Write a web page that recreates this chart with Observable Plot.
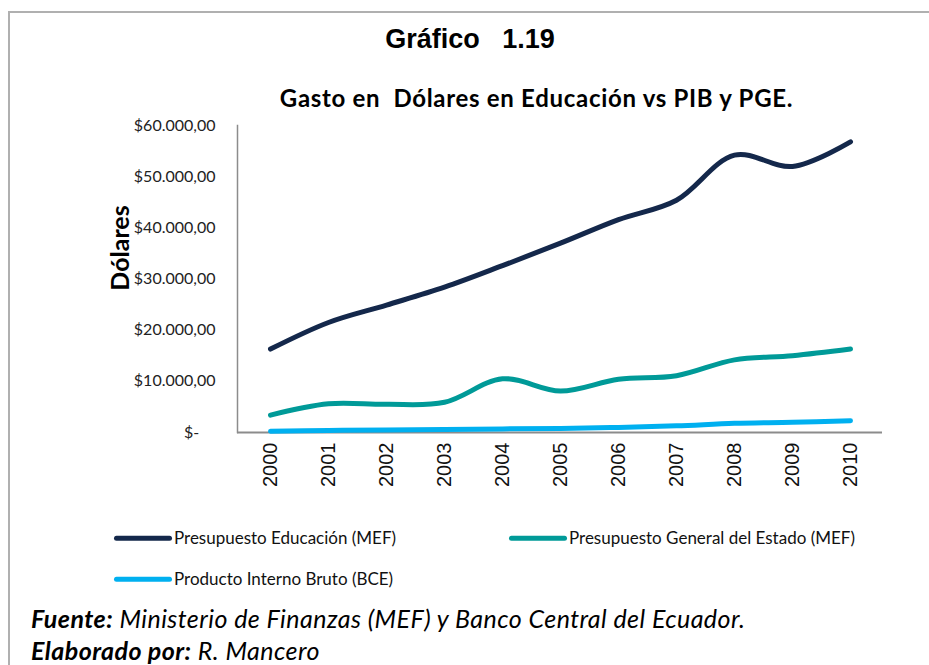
<!DOCTYPE html>
<html>
<head>
<meta charset="utf-8">
<script src="https://cdn.jsdelivr.net/npm/d3@7"></script>
<script src="https://cdn.jsdelivr.net/npm/@observablehq/plot@0.6"></script>
<style>
  body { margin: 0; background: #fff; }
  #wrap { position: relative; width: 929px; height: 665px; overflow: hidden; background: #fff; font-family: Lato, "Open Sans", sans-serif; color: #000; }
  #border { position: absolute; left: 8px; top: 11px; width: 940px; height: 700px; border-top: 2px solid #b0b0b0; border-left: 2px solid #b0b0b0; }
  .abs { position: absolute; white-space: pre; line-height: 1.2; }
  #title { left: 0; width: 940px; text-align: center; top: 24px; font-family: "Liberation Sans", Arial, sans-serif; font-weight: bold; font-size: 27px; line-height: 1.15; }
  #subtitle { left: 0; width: 1073px; text-align: center; top: 84px; font-weight: bold; font-size: 24px; letter-spacing: 0.7px; }
  #ylabel { left: 119px; top: 248px; transform: translate(-50%, -50%) rotate(-90deg); font-weight: bold; font-size: 25px; }
  #chart { position: absolute; left: 0; top: 0; }
  .leg { font-size: 17px; display: flex; align-items: center; color: #111; transform: translateY(-50%); }
  .sw { display: inline-block; width: 58px; height: 5px; border-radius: 3px; margin-right: 2px; }
  .foot { left: 31px; font-size: 25px; font-style: italic; letter-spacing: 0.45px; }
</style>
</head>
<body>
<div id="wrap">
  <div id="border"></div>
  <div id="chart"></div>
  <div class="abs" id="title">Gráfico   1.19</div>
  <div class="abs" id="subtitle">Gasto en  Dólares en Educación vs PIB y PGE.</div>
  <div class="abs" id="ylabel">Dólares</div>
  <div id="legend"></div>
  <div class="abs foot" style="top:603px"><b>Fuente:</b> Ministerio de Finanzas (MEF) y Banco Central del Ecuador.</div>
  <div class="abs foot" style="top:635px"><b>Elaborado por:</b> R. Mancero</div>
</div>
<script>
const years = ["2000","2001","2002","2003","2004","2005","2006","2007","2008","2009","2010"];
const seriesNames = ["Presupuesto Educación (MEF)", "Presupuesto General del Estado (MEF)", "Producto Interno Bruto (BCE)"];
const seriesColors = ["#14284b", "#009a98", "#00b0f0"];
const educacion = [16300, 21500, 24900, 28400, 32600, 37000, 41600, 45400, 54200, 52000, 56800];
const pge = [3400, 5600, 5500, 5900, 10500, 8100, 10400, 11100, 14200, 15000, 16300];
const pib = [250, 400, 500, 600, 700, 800, 1000, 1300, 1800, 2000, 2300];
const yTicks = [0, 10000, 20000, 30000, 40000, 50000, 60000];

const allValues = [educacion, pge, pib];
const rows = [];
allValues.forEach((vals, i) => vals.forEach((v, j) => rows.push({year: years[j], value: v, series: seriesNames[i]})));

const loc = d3.formatLocale({decimal: ",", thousands: ".", grouping: [3], currency: ["$", ""]});
const fmt = loc.format("$,.2f");
const yFormat = d => d === 0 ? "$-\u00a0\u00a0\u00a0\u00a0" : fmt(d);

const chart = Plot.plot({
  width: 929,
  height: 500,
  marginLeft: 237,
  marginRight: 47,
  marginTop: 125,
  marginBottom: 68,
  style: {fontFamily: "Lato, sans-serif", background: "transparent", overflow: "visible"},
  x: {type: "point", domain: years, padding: 0.5, label: null},
  y: {domain: [0, 60000], label: null},
  color: {domain: seriesNames, range: seriesColors},
  marks: [
    Plot.axisY({ticks: yTicks, tickFormat: yFormat, tickSize: 0, tickPadding: 22, fontSize: 16, fill: "#222"}),
    Plot.axisX({tickRotate: -90, tickSize: 0, tickPadding: 10, fontSize: 20, fontFamily: "Liberation Sans, Arial, sans-serif", fill: "#111"}),
    Plot.frame({anchor: "left", stroke: "#8c8c8c", strokeWidth: 1.5}),
    Plot.ruleY([0], {stroke: "#8c8c8c", strokeWidth: 2}),
    Plot.line(rows, {x: "year", y: "value", z: "series", stroke: "series", strokeWidth: 5, curve: "catmull-rom", strokeLinecap: "round", strokeLinejoin: "round"})
  ]
});
document.getElementById("chart").appendChild(chart);

const legendPos = [[114, 538], [509, 538], [114, 579]];
const legend = document.getElementById("legend");
seriesNames.forEach((name, i) => {
  const d = document.createElement("div");
  d.className = "abs leg";
  d.style.left = legendPos[i][0] + "px";
  d.style.top = legendPos[i][1] + "px";
  const sw = document.createElement("span");
  sw.className = "sw";
  sw.style.background = seriesColors[i];
  const t = document.createElement("span");
  t.textContent = name;
  d.appendChild(sw); d.appendChild(t);
  legend.appendChild(d);
});
</script>
</body>
</html>
